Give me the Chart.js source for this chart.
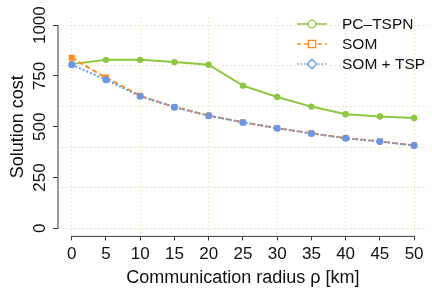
<!DOCTYPE html>
<html><head><meta charset="utf-8">
<style>html,body{margin:0;padding:0;background:#fff}#wrap{width:432px;height:291px}</style>
<script src="https://cdn.jsdelivr.net/npm/chart.js@4.4.1/dist/chart.umd.min.js"></script>
</head><body><div id="wrap"><canvas id="c" width="432" height="291"></canvas></div>
<script>
const radius = [0, 5, 10, 15, 20, 25, 30, 35, 40, 45, 50];
const pcTspn = [808, 829, 829, 818, 805, 702, 646, 599, 561, 550, 543];
const som    = [839, 742, 652, 597, 555, 522, 493, 468, 444, 428, 408];
const somTsp = [805, 731, 650, 596, 554, 521, 492, 467, 443, 427, 407];
const xTicks = [0, 5, 10, 15, 20, 25, 30, 35, 40, 45, 50];
const yTicks = [0, 250, 500, 750, 1000];
const xGrid = [0, 10, 20, 30, 40, 50];
const yGrid = [0, 200, 400, 600, 800, 1000];
const seriesNames = ['PC\u2013TSPN', 'SOM', 'SOM + TSP'];

const FONT = "'Liberation Sans', Arial, Helvetica, sans-serif";
const GREEN = '#8DC63F', ORANGE = '#FF8C1A', BLUE = '#6A96E6';
const GRIDC = '#EFE8CC';
const AXISC = '#3a3a3a';

function pts(ys) { return radius.map((x, i) => ({x, y: ys[i]})); }

const styles = [
  {color: GREEN, dash: [], pointStyle: 'circle', radius: 3.2, order: 3},
  {color: ORANGE, dash: [5, 3], pointStyle: 'rect', radius: 4.2, order: 2},
  {color: BLUE, dash: [2, 2], pointStyle: 'circle', radius: 3.5, order: 1}
];
const seriesData = [pcTspn, som, somTsp];

const datasets = seriesData.map((d, i) => ({
  label: seriesNames[i],
  data: pts(d),
  borderColor: styles[i].color,
  backgroundColor: styles[i].color,
  borderWidth: 2,
  borderDash: styles[i].dash,
  pointStyle: styles[i].pointStyle,
  pointRadius: styles[i].radius,
  pointBorderWidth: 0,
  pointBackgroundColor: styles[i].color,
  tension: 0,
  order: styles[i].order
}));

const axisLines = {
  id: 'axisLines',
  afterDraw(chart) {
    const ctx = chart.ctx, xs = chart.scales.x, ys = chart.scales.y, a = chart.chartArea;
    ctx.save();
    ctx.strokeStyle = AXISC; ctx.lineWidth = 1; ctx.setLineDash([]);
    ctx.beginPath();
    ctx.moveTo(xs.getPixelForValue(xTicks[0]), a.bottom);
    ctx.lineTo(xs.getPixelForValue(xTicks[xTicks.length - 1]), a.bottom);
    ctx.moveTo(a.left, ys.getPixelForValue(yTicks[0]));
    ctx.lineTo(a.left, ys.getPixelForValue(yTicks[yTicks.length - 1]));
    ctx.stroke();
    ctx.restore();
  }
};

const legendPlugin = {
  id: 'customLegend',
  afterDraw(chart) {
    const ctx = chart.ctx;
    const x1 = 297, x2 = 327, mx = 312, tx = 342, y0 = 24, dy = 20;
    ctx.save();
    seriesNames.forEach((name, i) => {
      const y = y0 + i * dy, st = styles[i];
      ctx.strokeStyle = st.color; ctx.lineWidth = 1.5;
      ctx.setLineDash(i === 0 ? [] : (i === 1 ? [4, 3] : [1.5, 2]));
      ctx.beginPath(); ctx.moveTo(x1, y); ctx.lineTo(x2, y); ctx.stroke();
      ctx.setLineDash([]);
      ctx.fillStyle = '#fff'; ctx.lineWidth = 1.3;
      ctx.beginPath();
      if (i === 0) ctx.arc(mx, y, 3.8, 0, Math.PI * 2);
      else if (i === 1) ctx.rect(mx - 3.6, y - 3.6, 7.2, 7.2);
      else { ctx.moveTo(mx, y - 4.8); ctx.lineTo(mx + 4.8, y); ctx.lineTo(mx, y + 4.8); ctx.lineTo(mx - 4.8, y); ctx.closePath(); }
      ctx.fill(); ctx.stroke();
      ctx.fillStyle = '#111'; ctx.font = '15.5px ' + FONT;
      ctx.textBaseline = 'middle'; ctx.textAlign = 'left';
      ctx.fillText(name, tx, y + 0.5);
    });
    ctx.restore();
  }
};

new Chart(document.getElementById('c'), {
  type: 'line',
  data: {datasets},
  plugins: [axisLines, legendPlugin],
  options: {
    responsive: false,
    devicePixelRatio: 1,
    animation: false,
    layout: {padding: {top: 17, right: 1.5, left: 0, bottom: 0}},
    plugins: {legend: {display: false}, tooltip: {enabled: false}},
    scales: {
      x: {
        type: 'linear', position: 'bottom', min: -2, max: 52,
        afterBuildTicks: s => { s.ticks = xTicks.map(v => ({value: v})); },
        afterFit: s => { s.height = 54.6; },
        grid: {drawOnChartArea: false, drawTicks: true, tickLength: 4, tickColor: AXISC, tickWidth: 1},
        border: {display: false},
        ticks: {font: {family: FONT, size: 17}, color: '#111', padding: 4, autoSkip: false, maxRotation: 0,
                callback: v => String(v)},
        title: {display: true, text: 'Communication radius \u03c1 [km]', color: '#111',
                font: {family: FONT, size: 18}, padding: {top: 0, bottom: 2.2}}
      },
      xg: {
        type: 'linear', axis: 'x', position: 'bottom', min: -2, max: 52,
        afterBuildTicks: s => { s.ticks = xGrid.map(v => ({value: v})); },
        afterFit: s => { s.height = 0; },
        grid: {drawOnChartArea: true, drawTicks: false, color: GRIDC, lineWidth: 1},
        border: {display: false, dash: [2, 2]},
        ticks: {display: false}
      },
      y: {
        type: 'linear', position: 'left', min: -40, max: 1040,
        afterBuildTicks: s => { s.ticks = yTicks.map(v => ({value: v})); },
        afterFit: s => { s.width = 58; },
        grid: {drawOnChartArea: false, drawTicks: true, tickLength: 5, tickColor: AXISC, tickWidth: 1},
        border: {display: false},
        ticks: {font: {family: FONT, size: 17}, color: '#111', padding: -5.9, minRotation: 90, maxRotation: 90,
                crossAlign: 'center', autoSkip: false, callback: v => String(v)},
        title: {display: true, text: 'Solution cost', color: '#111',
                font: {family: FONT, size: 18}, padding: {top: 7.2, bottom: 0}}
      },
      yg: {
        type: 'linear', axis: 'y', position: 'left', min: -40, max: 1040,
        afterBuildTicks: s => { s.ticks = yGrid.map(v => ({value: v})); },
        afterFit: s => { s.width = 0; },
        grid: {drawOnChartArea: true, drawTicks: false, color: GRIDC, lineWidth: 1},
        border: {display: false, dash: [2, 2]},
        ticks: {display: false}
      }
    }
  }
});
</script></body></html>
